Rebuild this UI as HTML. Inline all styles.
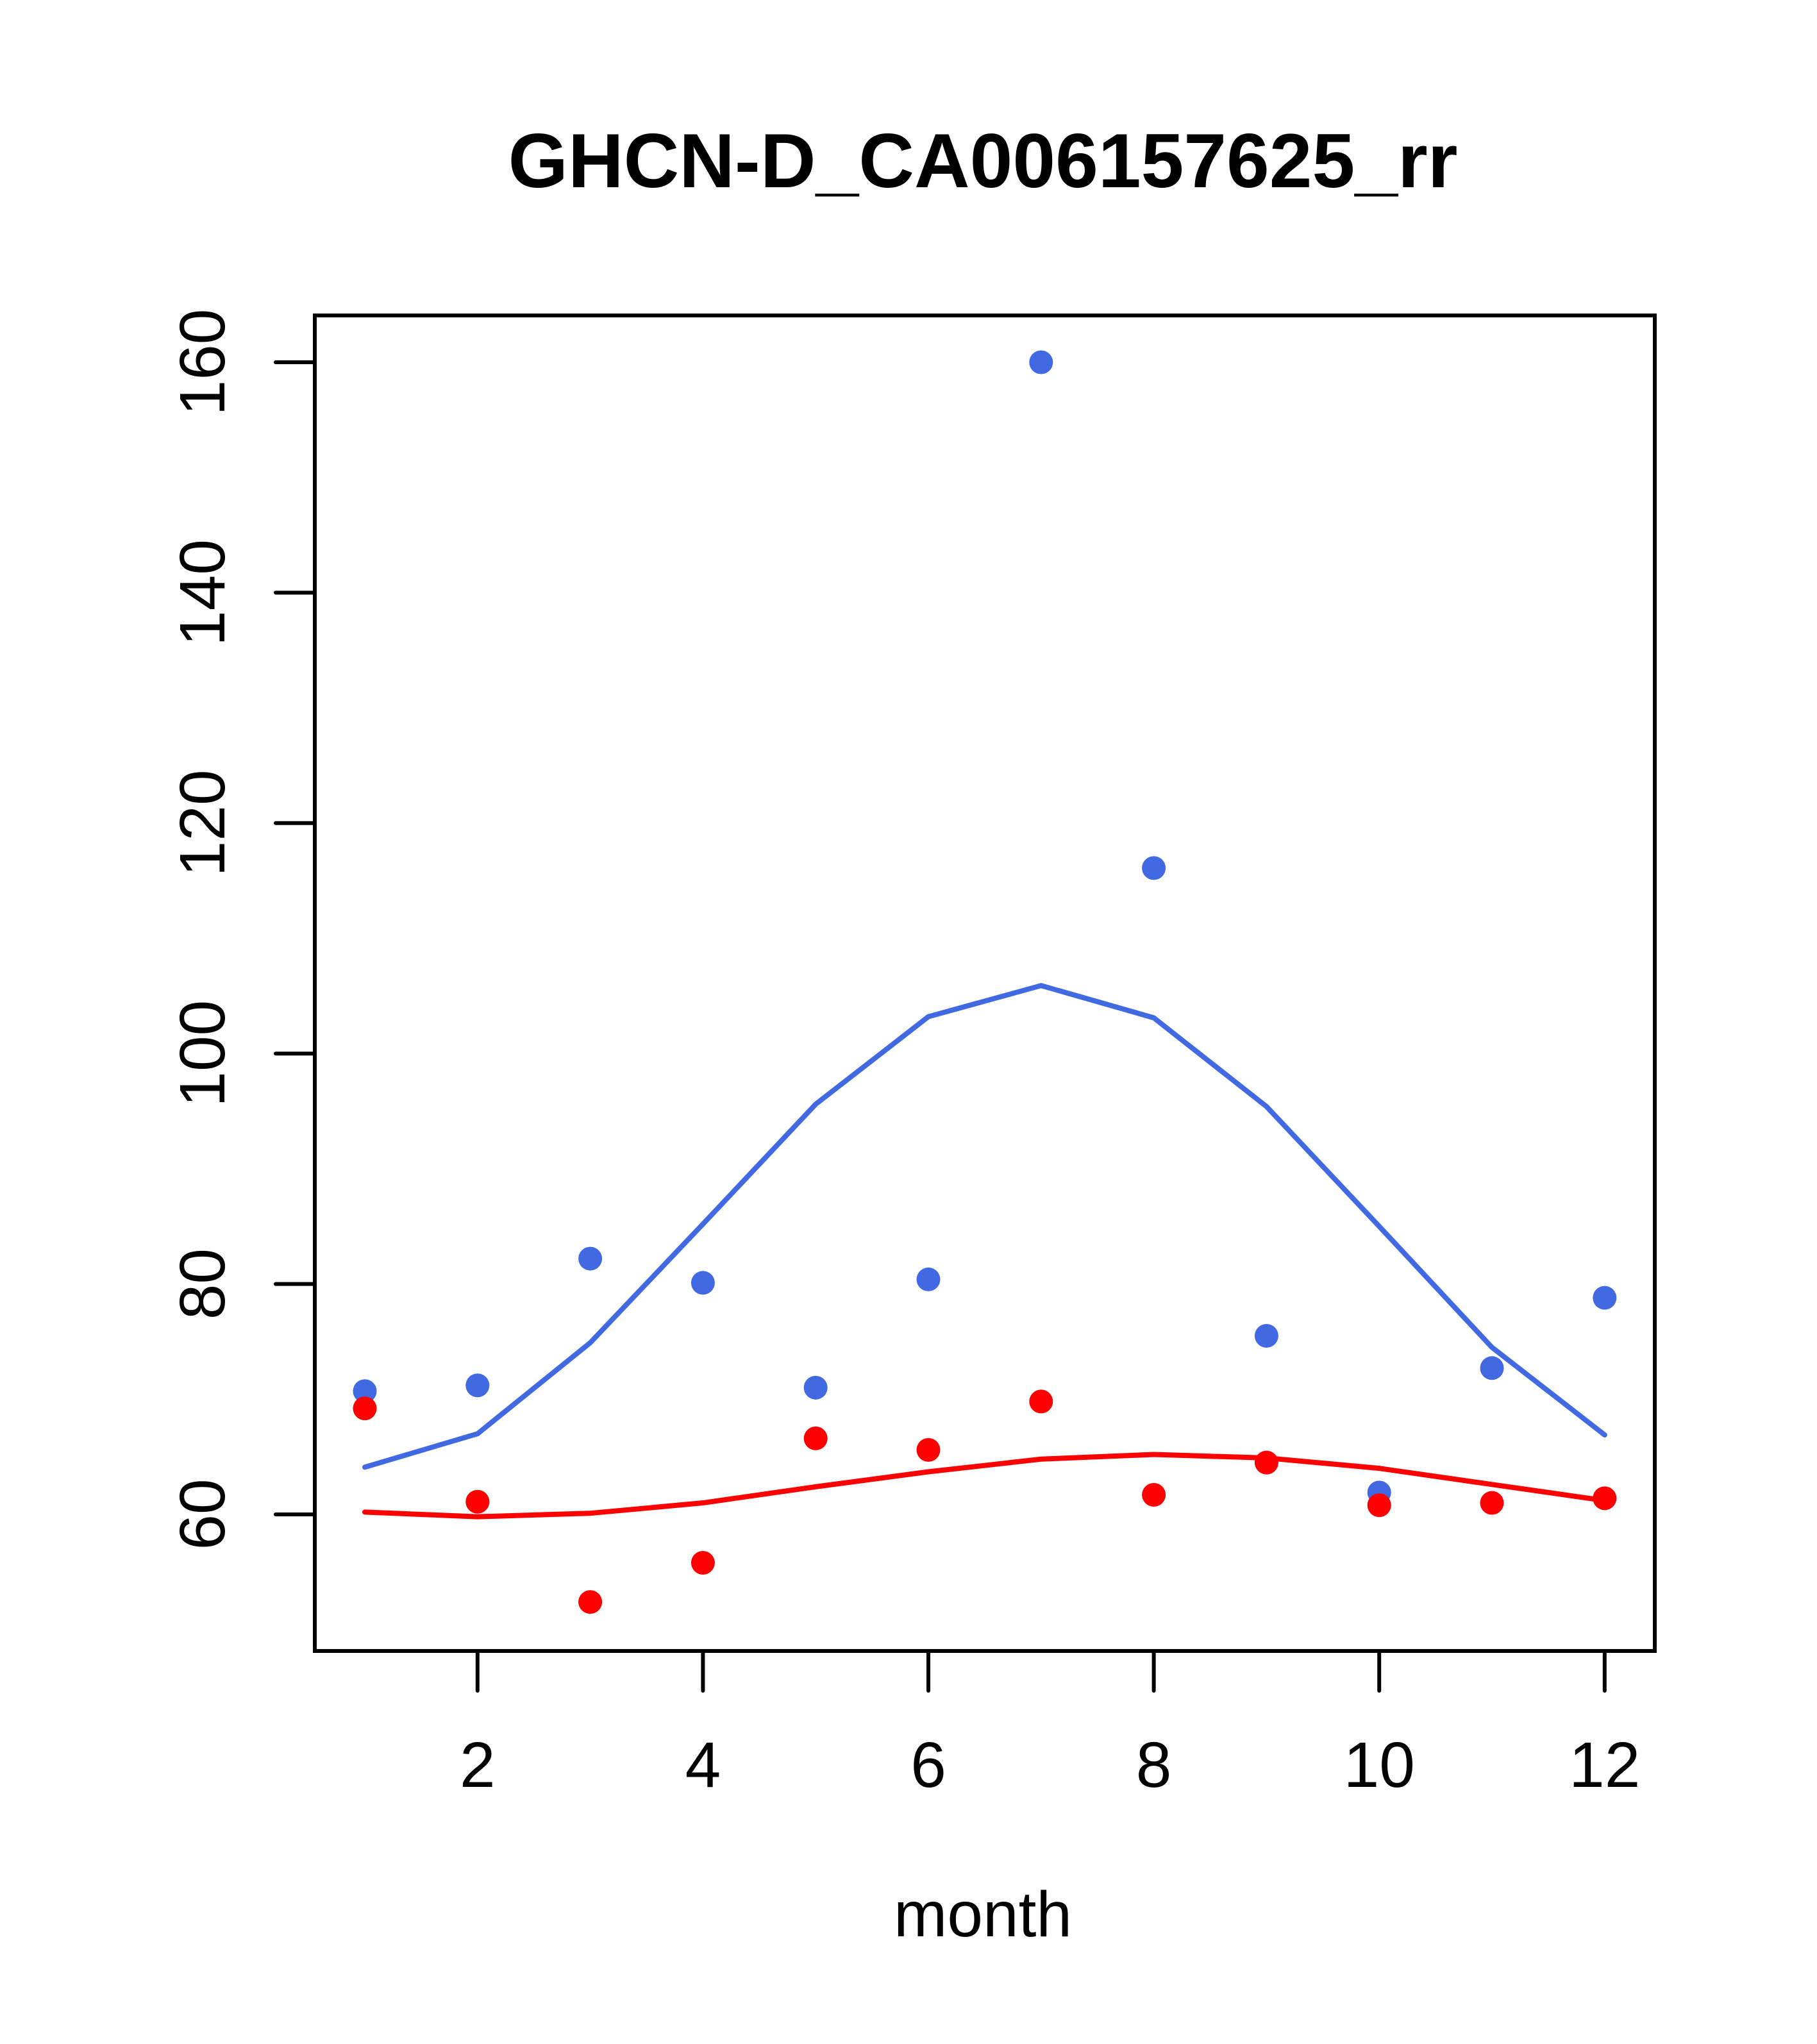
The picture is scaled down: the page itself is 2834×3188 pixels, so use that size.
<!DOCTYPE html>
<html><head><meta charset="utf-8"><style>html,body{margin:0;padding:0;background:#fff}svg{display:block}</style></head>
<body>
<svg id="chart" width="2834" height="3188" xmlns="http://www.w3.org/2000/svg" font-family="'Liberation Sans', sans-serif">
<text x="1533" y="292" font-size="120" font-weight="bold" text-anchor="middle">GHCN-D_CA006157625_rr</text>
<text x="1533" y="3020" font-size="100" text-anchor="middle">month</text>
<g id="marks"></g>
<rect x="491" y="492" width="2090" height="2083" fill="none" stroke="#000" stroke-width="6"/>
</svg>
<script>
const months = [1,2,3,4,5,6,7,8,9,10,11,12];
const bluePoints = [70.7,71.2,82.2,80.1,71.0,80.4,160,116.1,75.5,61.9,72.7,78.8];
const redPoints = [69.2,61.1,52.4,55.8,66.6,65.6,69.8,61.7,64.5,60.8,61.0,61.4];
const blueLine = [64.1,67.0,74.9,85.2,95.6,103.2,105.9,103.1,95.4,85.0,74.5,66.9];
const redLine = [60.2,59.8,60.1,61.0,62.4,63.7,64.8,65.2,64.9,64.0,62.6,61.2];
const xTicks = [2,4,6,8,10,12];
const yTicks = [60,80,100,120,140,160];

const NS = 'http://www.w3.org/2000/svg';
const g = document.getElementById('marks');
function xs(m){ return 569 + (m-1)*175.8; }
function ys(v){ return 2362 - (v-60)*17.97; }
function mk(tag, attrs){ const e=document.createElementNS(NS,tag); for(const k in attrs) e.setAttribute(k,attrs[k]); g.appendChild(e); return e; }

xTicks.forEach(t=>{
  const l = mk('line',{x1:xs(t),x2:xs(t),y1:2575,y2:2637,stroke:'#000','stroke-width':6,'stroke-linecap':'round'});
  
  
  const tx = mk('text',{x:xs(t),y:2787,'font-size':100,'text-anchor':'middle'});
  tx.textContent = t;
  
  
});
yTicks.forEach(t=>{
  const l = mk('line',{x1:430,x2:491,y1:ys(t),y2:ys(t),stroke:'#000','stroke-width':6,'stroke-linecap':'round'});
  
  
  const tx = mk('text',{x:0,y:0,'font-size':100,'text-anchor':'middle',transform:'translate(350,'+ys(t)+') rotate(-90)'});
  tx.textContent = t;
  
  
});
function line(vals, color, name){
  const p = mk('polyline',{points:vals.map((v,i)=>xs(months[i])+','+ys(v)).join(' '),fill:'none',stroke:color,'stroke-width':8,'stroke-linecap':'round','stroke-linejoin':'round'});
  
  
}
function pts(vals, color, name){
  vals.forEach((v,i)=>{
    const c = mk('circle',{cx:xs(months[i]),cy:ys(v),r:18.5,fill:color});
    
    
  });
}
line(blueLine,'#4169E1','blue-fit-line');
line(redLine,'#FF0000','red-fit-line');
pts(bluePoints,'#4169E1','blue-point');
pts(redPoints,'#FF0000','red-point');
</script>
</body></html>
